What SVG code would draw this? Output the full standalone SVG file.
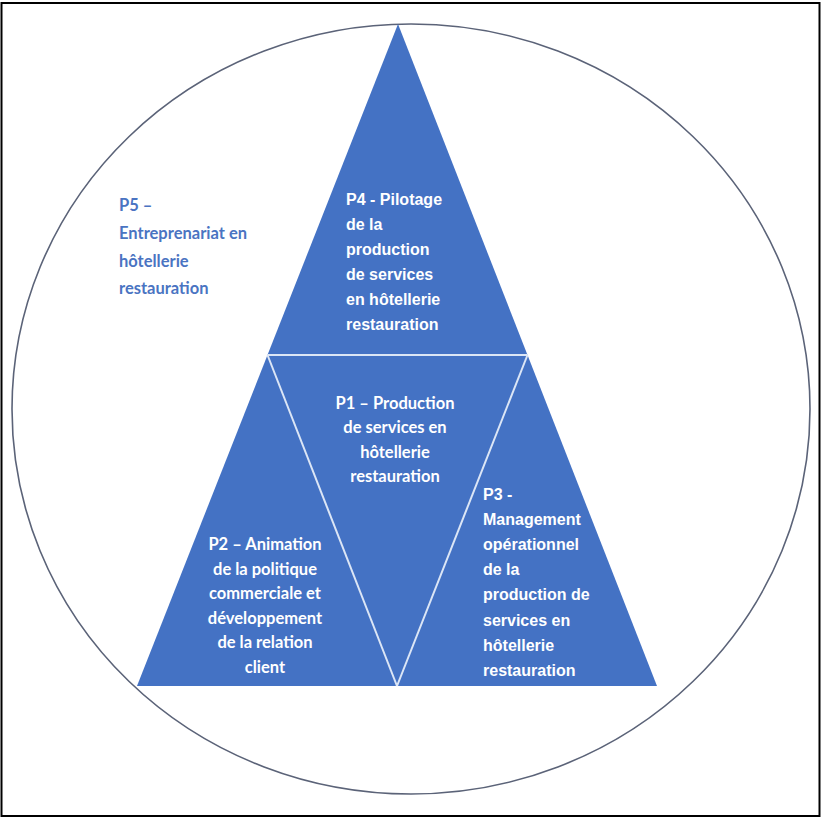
<svg xmlns="http://www.w3.org/2000/svg" width="824" height="818" viewBox="0 0 824 818">
<style>
.tri{fill:#4472C4;stroke:none}
.sep{stroke:#dce6f6;stroke-width:2;fill:none}
.ar{font-family:"Liberation Sans",Arial,sans-serif;font-weight:bold;font-size:16px;fill:#ffffff}
.ca{font-family:Lato,"Open Sans",sans-serif;font-weight:bold;font-size:16.5px;fill:#ffffff;text-anchor:middle}
.p5{font-family:Lato,"Open Sans",sans-serif;font-weight:bold;font-size:16.5px;fill:#4a74c2}
</style>
<rect x="1.5" y="3" width="818" height="813" fill="#ffffff" stroke="#000000" stroke-width="2"/>
<g id="P5">
<ellipse cx="411" cy="409" rx="399" ry="385" fill="none" stroke="#5b6378" stroke-width="1.6"/>
<text class="p5"><tspan x="119" y="211">P5 –</tspan><tspan x="119" y="239">Entreprenariat en</tspan><tspan x="119" y="267">hôtellerie</tspan><tspan x="119" y="294">restauration</tspan></text>
</g>
<g id="P4">
<polygon class="tri" points="398,24 267.5,355 527.5,355"/>
<text class="ar"><tspan x="346" y="205">P4 - Pilotage</tspan><tspan x="346" y="230">de la</tspan><tspan x="346" y="255">production</tspan><tspan x="346" y="280">de services</tspan><tspan x="346" y="305">en hôtellerie</tspan><tspan x="346" y="330">restauration</tspan></text>
</g>
<g id="P1">
<polygon class="tri" points="267.5,355 527.5,355 397,686"/>
<text class="ca"><tspan x="395" y="409">P1 – Production</tspan><tspan x="395" y="433">de services en</tspan><tspan x="395" y="458">hôtellerie</tspan><tspan x="395" y="482">restauration</tspan></text>
</g>
<g id="P2">
<polygon class="tri" points="267.5,355 397,686 137,686"/>
<text class="ca"><tspan x="265" y="550">P2 – Animation</tspan><tspan x="265" y="575">de la politique</tspan><tspan x="265" y="599">commerciale et</tspan><tspan x="265" y="624">développement</tspan><tspan x="265" y="648">de la relation</tspan><tspan x="265" y="673">client</tspan></text>
</g>
<g id="P3">
<polygon class="tri" points="527.5,355 657,686 397,686"/>
<text class="ar"><tspan x="483" y="500">P3 -</tspan><tspan x="483" y="525">Management</tspan><tspan x="483" y="550">opérationnel</tspan><tspan x="483" y="575">de la</tspan><tspan x="483" y="600">production de</tspan><tspan x="483" y="626">services en</tspan><tspan x="483" y="651">hôtellerie</tspan><tspan x="483" y="676">restauration</tspan></text>
</g>
<g id="connectors">
<line class="sep" x1="267.5" y1="355" x2="527.5" y2="355"/>
<line class="sep" x1="267.5" y1="355" x2="397" y2="686"/>
<line class="sep" x1="527.5" y1="355" x2="397" y2="686"/>
</g>
</svg>
